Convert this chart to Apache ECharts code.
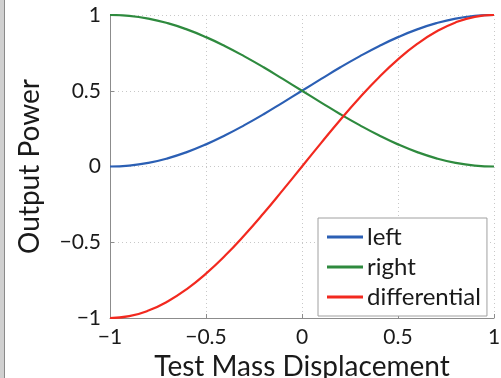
<!DOCTYPE html>
<html>
<head>
<meta charset="utf-8">
<script src="https://cdn.jsdelivr.net/npm/echarts@6/dist/echarts.min.js"></script>
<style>html,body{margin:0;padding:0;background:#fff;}#c{width:501px;height:378px;}</style>
</head>
<body>
<div id="c"></div>
<script>
const xValues = [-1,-0.9,-0.8,-0.7,-0.6,-0.5,-0.4,-0.3,-0.2,-0.1,0,0.1,0.2,0.3,0.4,0.5,0.6,0.7,0.8,0.9,1];
const leftValues = [0,0.006,0.024,0.054,0.095,0.146,0.206,0.273,0.345,0.422,0.5,0.578,0.655,0.727,0.794,0.854,0.905,0.946,0.976,0.994,1];
const rightValues = [1,0.994,0.976,0.946,0.905,0.854,0.794,0.727,0.655,0.578,0.5,0.422,0.345,0.273,0.206,0.146,0.095,0.054,0.024,0.006,0];
const diffValues = [-1,-0.988,-0.951,-0.891,-0.809,-0.707,-0.588,-0.454,-0.309,-0.156,0,0.156,0.309,0.454,0.588,0.707,0.809,0.891,0.951,0.988,1];
const seriesNames = ['left','right','differential'];

const FONT = 'Lato, sans-serif';
function fmt(v){ return String(v).replace('-', '\u2212'); }
function pairs(ys){ return xValues.map((x,i)=>[x, ys[i]]); }

const chart = echarts.init(document.getElementById('c'), null, {renderer:'canvas'});
const colors = ['#2b5fb4','#2e8a3e','#f2291f'];
chart.setOption({
  animation:false,
  backgroundColor:'#fff',
  grid:{left:110, right:7, top:15, bottom:60, containLabel:false, outerBoundsMode:'none'},
  graphic:[
    {type:'rect', shape:{x:0,y:0,width:4,height:378}, style:{fill:'#d0d0d0'}},
    {type:'line', shape:{x1:4.5,y1:0,x2:4.5,y2:378}, style:{stroke:'#8a8a8a', lineWidth:1}}
  ],
  legend:{
    left:318, top:218, orient:'vertical',
    padding:[7,6,7,9],
    itemWidth:36, itemHeight:3, itemGap:6, icon:'rect',
    backgroundColor:'#fff', borderColor:'#a0a0a0', borderWidth:1,
    textStyle:{fontFamily:FONT, fontSize:24, color:'#1a1a1a', lineHeight:24, padding:[0,0,0,-1]},
    data:seriesNames
  },
  xAxis:{
    type:'value', min:-1, max:1, interval:0.5,
    name:'Test Mass Displacement', nameLocation:'middle', nameGap:30,
    nameTextStyle:{fontFamily:FONT, fontSize:28, color:'#1a1a1a'},
    axisLine:{show:true, onZero:false, lineStyle:{color:'#8c8c8c', width:1}},
    axisTick:{show:true, inside:true, length:4, lineStyle:{color:'#8c8c8c'}},
    axisLabel:{fontFamily:FONT, fontSize:21, color:'#1a1a1a', margin:9, formatter:fmt},
    splitLine:{show:true, lineStyle:{color:'#c8c8c8', type:[1,3], width:1}}
  },
  yAxis:{
    type:'value', min:-1, max:1, interval:0.5,
    name:'Output Power', nameLocation:'middle', nameGap:66, nameRotate:90,
    nameTextStyle:{fontFamily:FONT, fontSize:28, color:'#1a1a1a'},
    axisLine:{show:true, onZero:false, lineStyle:{color:'#8c8c8c', width:1}},
    axisTick:{show:true, inside:true, length:4, lineStyle:{color:'#8c8c8c'}},
    axisLabel:{fontFamily:FONT, fontSize:21, color:'#1a1a1a', margin:9, formatter:fmt},
    splitLine:{show:true, lineStyle:{color:'#c8c8c8', type:[1,3], width:1}}
  },
  series:[
    {name:seriesNames[0], type:'line', data:pairs(leftValues), smooth:true, showSymbol:false, lineStyle:{color:colors[0], width:2.2}, itemStyle:{color:colors[0]}},
    {name:seriesNames[1], type:'line', data:pairs(rightValues), smooth:true, showSymbol:false, lineStyle:{color:colors[1], width:2.2}, itemStyle:{color:colors[1]}},
    {name:seriesNames[2], type:'line', data:pairs(diffValues), smooth:true, showSymbol:false, lineStyle:{color:colors[2], width:2.2}, itemStyle:{color:colors[2]}}
  ]
});
</script>
</body>
</html>
